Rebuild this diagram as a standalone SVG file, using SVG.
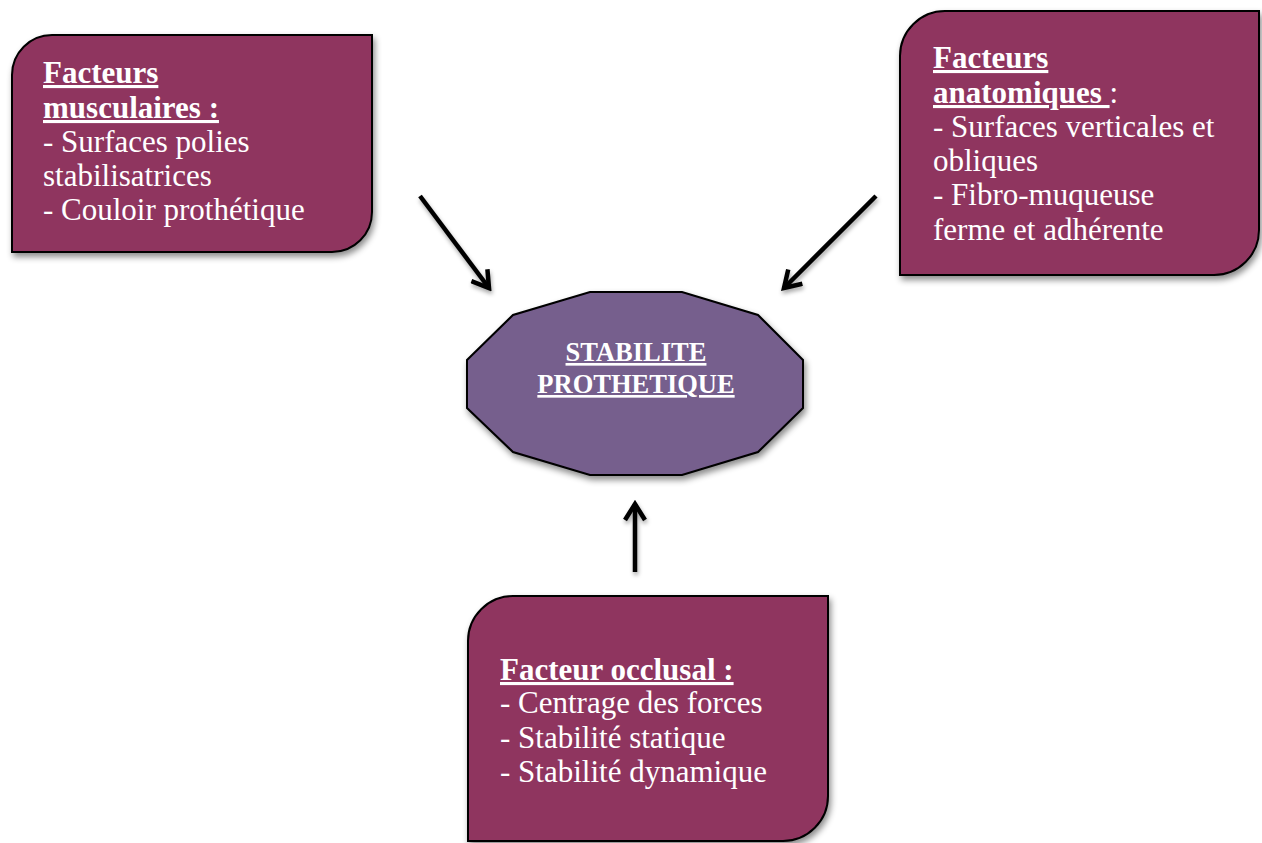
<svg xmlns="http://www.w3.org/2000/svg" width="1262" height="843" viewBox="0 0 1262 843">
<style>
.box{fill:#8f365f;stroke:#000;stroke-width:2;filter:url(#sh)}
.oct{fill:#765e8d;stroke:#000;stroke-width:2;filter:url(#sh)}
.t{font-family:"Liberation Serif","Times New Roman",serif;font-size:31px;fill:#fff}
.b{font-weight:bold;text-decoration:underline}
.c{font-family:"Liberation Serif","Times New Roman",serif;font-size:26.5px;fill:#fff;font-weight:bold;text-decoration:underline;text-anchor:middle}
.ar{fill:none;stroke:#000;stroke-width:4.5;filter:url(#sh2)}
</style>
<defs>
<filter id="sh" x="-10%" y="-10%" width="130%" height="130%">
<feDropShadow dx="2" dy="4" stdDeviation="3" flood-color="#000" flood-opacity="0.45"/>
</filter>
<filter id="sh2" filterUnits="userSpaceOnUse" x="0" y="0" width="1262" height="843">
<feDropShadow dx="1" dy="3" stdDeviation="2" flood-color="#000" flood-opacity="0.35"/>
</filter>
<marker id="ah" markerUnits="userSpaceOnUse" viewBox="-20 -12 24 24" refX="0" refY="0" markerWidth="24" markerHeight="24" orient="auto">
<path d="M-16,-10 L0,0 L-16,10" fill="none" stroke="#000" stroke-width="4.5" stroke-linejoin="miter"/>
</marker>
</defs>
<g id="connectors">
<path class="ar" d="M420,196 L489,288" marker-end="url(#ah)"/>
<path class="ar" d="M876,196 L784,288" marker-end="url(#ah)"/>
<path class="ar" d="M635,572 L635,504" marker-end="url(#ah)"/>
</g>
<g id="musculaires">
<path class="box" d="M12,75 A40,40 0 0 1 52,35 L372,35 L372,212 A40,40 0 0 1 332,252 L12,252 Z"/>
<text class="t b" x="43" y="83">Facteurs</text>
<text class="t b" x="43" y="118">musculaires :</text>
<text class="t" x="43" y="152">- Surfaces polies</text>
<text class="t" x="43" y="186">stabilisatrices</text>
<text class="t" x="43" y="220">- Couloir prothétique</text>
</g>
<g id="anatomiques">
<path class="box" d="M900,56 A45,45 0 0 1 945,11 L1259,11 L1259,230 A45,45 0 0 1 1214,275 L900,275 Z"/>
<text class="t b" x="933" y="68">Facteurs</text>
<text class="t" x="933" y="103"><tspan class="b">anatomiques </tspan><tspan>:</tspan></text>
<text class="t" x="933" y="137">- Surfaces verticales et</text>
<text class="t" x="933" y="171">obliques</text>
<text class="t" x="933" y="205">- Fibro-muqueuse</text>
<text class="t" x="933" y="240">ferme et adhérente</text>
</g>
<g id="stabilite">
<polygon class="oct" points="590,292 682,292 758,315 803,360 803,408 758,452 682,475 590,475 513,452 467,408 467,360 513,315"/>
<text class="c" x="636" y="361">STABILITE</text>
<text class="c" x="636" y="393">PROTHETIQUE</text>
</g>
<g id="occlusal">
<path class="box" d="M468,641 A45,45 0 0 1 513,596 L828,596 L828,796 A45,45 0 0 1 783,841 L468,841 Z"/>
<text class="t b" x="500" y="680">Facteur occlusal :</text>
<text class="t" x="500" y="713">- Centrage des forces</text>
<text class="t" x="500" y="748">- Stabilité statique</text>
<text class="t" x="500" y="782">- Stabilité dynamique</text>
</g>
</svg>
